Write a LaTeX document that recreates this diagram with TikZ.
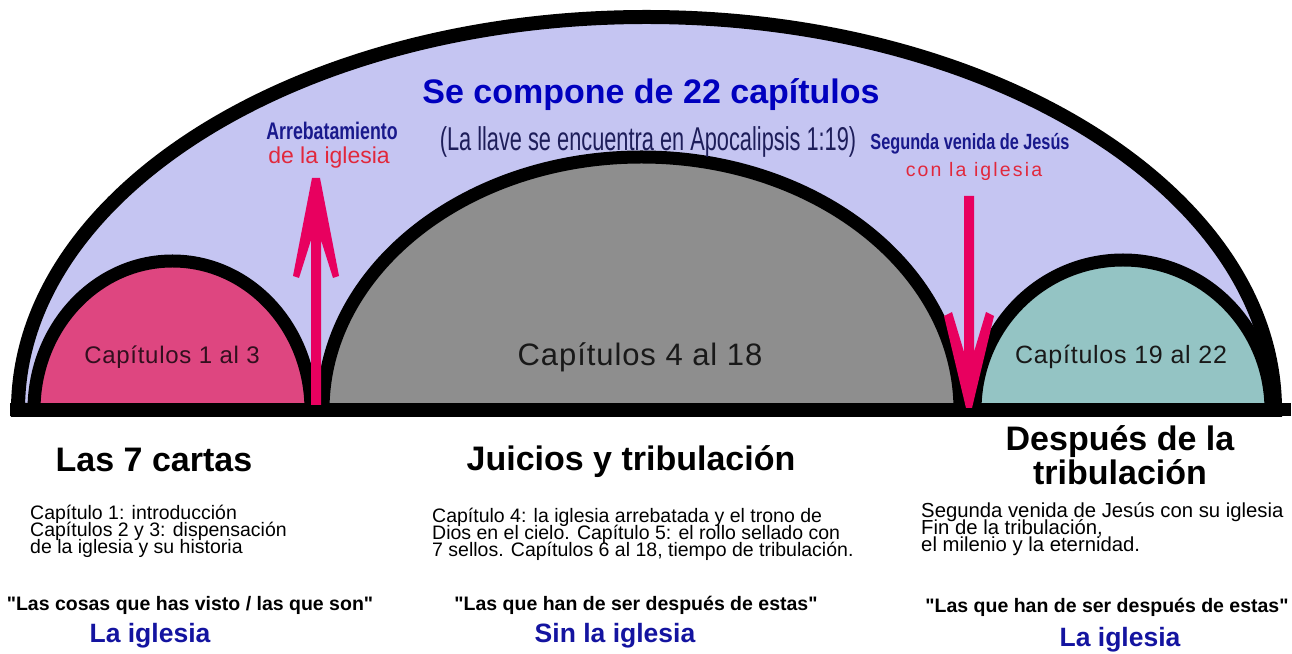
\documentclass[tikz,border=0pt]{standalone}
\usepackage{fontspec}
\setmainfont{Liberation Sans}
\newfontfamily\quotefont{Liberation Sans}
\newfontfamily\narrowfont[FakeStretch=0.66]{Liberation Sans}
\newfontfamily\narrowboldfont[FakeStretch=0.74]{Liberation Sans Bold}
\newfontfamily\spacedfont[LetterSpace=11]{Liberation Sans}
\newfontfamily\domefont[LetterSpace=3]{Liberation Sans}
\definecolor{lav}{RGB}{197,197,242}
\definecolor{pinkd}{RGB}{222,70,128}
\definecolor{grayd}{RGB}{142,142,142}
\definecolor{teald}{RGB}{148,196,196}
\definecolor{arrowc}{RGB}{232,0,95}
\definecolor{titleblue}{RGB}{0,0,190}
\definecolor{navy}{RGB}{25,25,140}
\definecolor{redtxt}{RGB}{225,40,60}
\definecolor{keyc}{RGB}{30,30,90}
\definecolor{igl}{RGB}{20,20,160}
\tikzset{
  dome/.style={draw=black, line width=13pt},
  fs/.style={font=\fontsize{#1}{#1}\selectfont},
  domelabel/.style={inner sep=0pt, font=\domefont\fontsize{#1}{#1}\selectfont},
  txt/.style={inner sep=0pt, align=center},
  para/.style={inner sep=0pt, align=left, anchor=north west, font=\fontsize{#1}{17}\selectfont},
  heading/.style={inner sep=0pt, align=center, font=\bfseries\fontsize{34}{34}\selectfont},
  quote/.style={inner sep=0pt, font=\quotefont\bfseries\fontsize{19.5}{19.5}\selectfont},
  church/.style={inner sep=0pt, text=igl, font=\bfseries\fontsize{26.5}{26.5}\selectfont},
  arrowshape/.style={fill=arrowc}
}
\begin{document}
\lineskiplimit=-30pt
\begin{tikzpicture}[x=1pt,y=1pt]
\useasboundingbox (0,0) rectangle (1292,653);
\fill[white] (0,0) rectangle (1292,653);
% outer arch
\path[fill=lav, draw=black, line width=14pt] (18,243) arc[start angle=180,end angle=0,x radius=628.5pt,y radius=393pt] -- cycle;
% domes
\path[dome, fill=pinkd] (34,243) arc[start angle=180,end angle=0,x radius=138.5pt,y radius=149pt] -- cycle;
\path[dome, fill=grayd] (323,243) arc[start angle=180,end angle=0,x radius=318.5pt,y radius=253pt] -- cycle;
\path[dome, fill=teald] (975,243) arc[start angle=180,end angle=0,x radius=148pt,y radius=150pt] -- cycle;
% base line
\fill[black] (10,237) rectangle (1291,250);
% up arrow (rapture)
\coordinate (upfoot) at (316,248);
\coordinate (uptip) at (316,475);
\fill[arrowshape] (312,475) -- (320,475) -- (339,377) -- (333,375) -- (321,413) -- (321,248) -- (311,248) -- (311,413) -- (299,375) -- (293,377) -- cycle;
% down arrow (second coming)
\coordinate (downtop) at (969,457);
\coordinate (downtip) at (969,245);
\fill[arrowshape] (964,457) -- (974,457) -- (974,301) -- (986,341) -- (994,337) -- (972,245) -- (966,245) -- (944,337) -- (952,341) -- (964,301) -- cycle;
% texts in arch
\node[txt, text=titleblue, font=\bfseries\fontsize{34}{34}\selectfont] (title) at (651,558) {Se compone de 22 capítulos};
\node[txt, text=keyc, font=\narrowfont\fontsize{33}{33}\selectfont] (key) at (648,511) {(La llave se encuentra en Apocalipsis 1:19)};
\node[txt, text=navy, font=\narrowboldfont\fontsize{24}{24}\selectfont] (rap1) at (332,522) {Arrebatamiento};
\node[txt, text=redtxt, fs=23] (rap2) at (329,495) {de la iglesia};
\node[txt, text=navy, font=\narrowboldfont\fontsize{22}{22}\selectfont] (sec1) at (970,509) {Segunda venida de Jesús};
\node[txt, text=redtxt, font=\spacedfont\fontsize{19.5}{19.5}\selectfont] (sec2) at (974,482) {con la iglesia};
% dome labels
\node[domelabel=24, text={rgb,255:red,50;green,15;blue,30}] (d1) at (172,296) {Capítulos 1 al 3};
\node[domelabel=31, text={rgb,255:red,25;green,25;blue,25}] (d2) at (640,296) {Capítulos 4 al 18};
\node[domelabel=25, text={rgb,255:red,25;green,25;blue,25}] (d3) at (1121,296) {Capítulos 19 al 22};
% bottom column 1
\node[heading] (h1) at (154,193) {Las 7 cartas};
\node[para=19.5] (p1) at (30,148) {Capítulo 1: introducción\\Capítulos 2 y 3: dispensación\\de la iglesia y su historia};
\node[quote] (q1) at (190,48) {"Las cosas que has visto / las que son"};
\node[church] (c1) at (150,17) {La iglesia};
% bottom column 2
\node[heading] (h2) at (631,191) {Juicios y tribulación};
\node[para=19.5] (p2) at (432,145) {Capítulo 4: la iglesia arrebatada y el trono de\\Dios en el cielo. Capítulo 5: el rollo sellado con\\7 sellos. Capítulos 6 al 18, tiempo de tribulación.};
\node[quote] (q2) at (636,48) {"Las que han de ser después de estas"};
\node[church] (c2) at (615,17) {Sin la iglesia};
% bottom column 3
\node[heading] (h3) at (1120,198) {Después de la\\tribulación};
\node[para=20.3] (p3) at (921,151) {Segunda venida de Jesús con su iglesia\\Fin de la tribulación,\\el milenio y la eternidad.};
\node[quote] (q3) at (1107,46) {"Las que han de ser después de estas"};
\node[church] (c3) at (1120,13) {La iglesia};
\end{tikzpicture}
\end{document}
